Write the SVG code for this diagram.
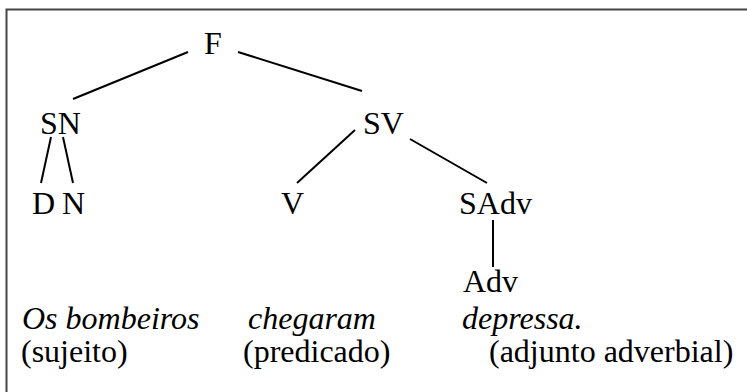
<svg xmlns="http://www.w3.org/2000/svg" width="747" height="392" viewBox="0 0 747 392">
<style>
text{font-family:"Liberation Serif","Times New Roman","DejaVu Serif",serif;font-size:32px;fill:#000}
.it{font-style:italic}
.edge{stroke:#000;stroke-width:2;fill:none}
</style>
<rect x="0" y="0" width="747" height="392" fill="#fff"/>
<rect x="6.5" y="9.5" width="760" height="400" fill="none" stroke="#444" stroke-width="2"/>
<g id="connectors">
<line class="edge" x1="188" y1="52" x2="73" y2="99"/>
<line class="edge" x1="238" y1="52" x2="362" y2="91"/>
<line class="edge" x1="51" y1="137" x2="41" y2="183"/>
<line class="edge" x1="63" y1="137" x2="73" y2="183"/>
<line class="edge" x1="355" y1="130" x2="297" y2="183"/>
<line class="edge" x1="410" y1="139" x2="487" y2="183"/>
<line class="edge" x1="493" y1="220" x2="493" y2="267"/>
</g>
<g id="F"><text x="204" y="54">F</text></g>
<g id="SN"><text x="40" y="134">SN</text></g>
<g id="SV"><text x="363" y="134">SV</text></g>
<g id="D"><text x="32" y="214">D</text></g>
<g id="N"><text x="62" y="214">N</text></g>
<g id="V"><text x="281" y="214">V</text></g>
<g id="SAdv"><text x="459" y="214">SAdv</text></g>
<g id="Adv"><text x="463" y="292">Adv</text></g>
<g id="sentence">
<text class="it" x="22" y="329">Os bombeiros</text>
<text class="it" x="248" y="329">chegaram</text>
<text class="it" x="462" y="329">depressa.</text>
<text x="21" y="362">(sujeito)</text>
<text x="243" y="362">(predicado)</text>
<text x="489" y="362">(adjunto adverbial)</text>
</g>
</svg>
